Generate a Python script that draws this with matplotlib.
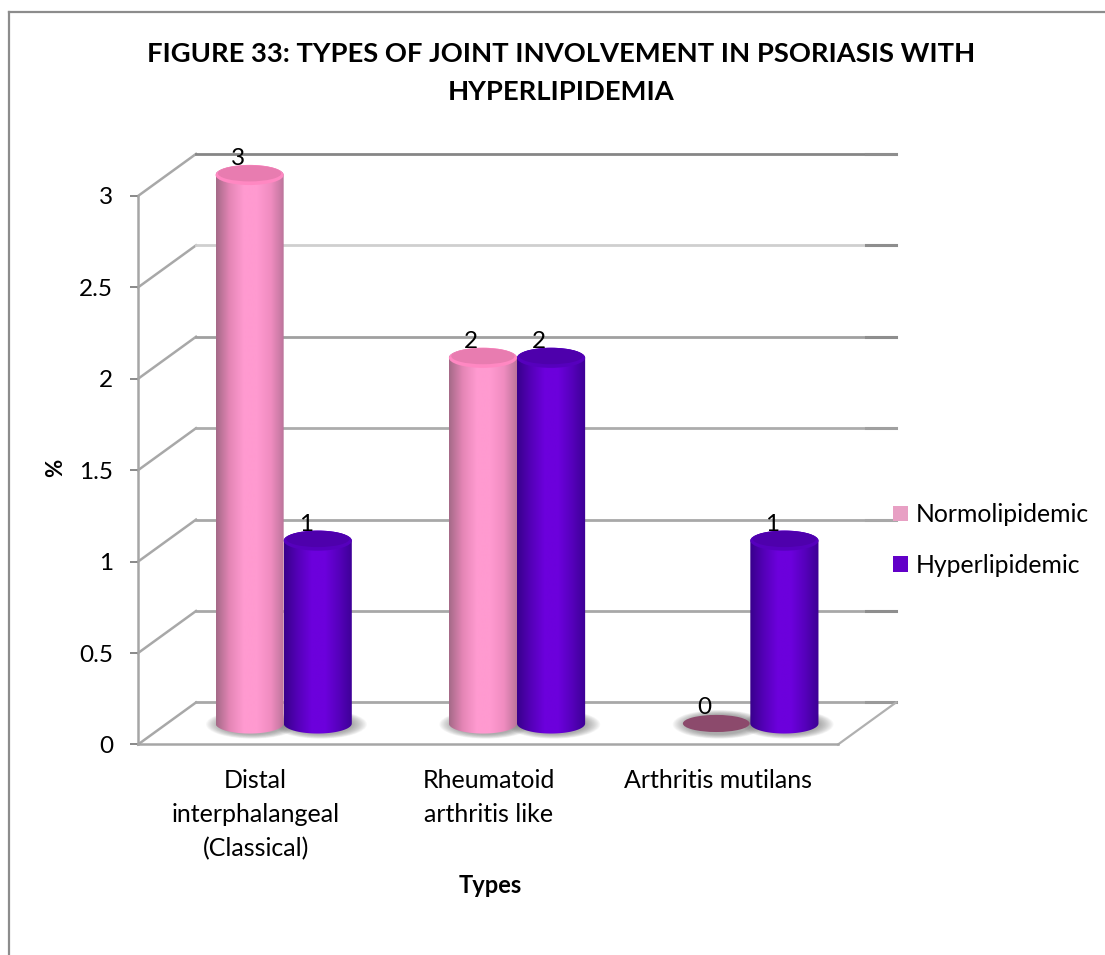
"""Grouped cylinder chart of joint involvement types by lipid status."""

import matplotlib

matplotlib.use("Agg")

import matplotlib.pyplot as plt
import numpy as np
from matplotlib.colors import LinearSegmentedColormap, to_rgb
from matplotlib.lines import Line2D
from matplotlib.patches import Ellipse, Patch, PathPatch
from matplotlib.path import Path
from matplotlib.transforms import ScaledTranslation

# Chart data
CATEGORIES = ["Distal\ninterphalangeal\n(Classical)", "Rheumatoid\narthritis like", "Arthritis mutilans"]
SERIES_NAMES = ["Normolipidemic", "Hyperlipidemic"]
NORMOLIPIDEMIC = [3, 2, 0]
HYPERLIPIDEMIC = [1, 2, 1]
Y_TICKS = [0, 0.5, 1, 1.5, 2, 2.5, 3]
Y_TICK_LABELS = ["0", "0.5", "1", "1.5", "2", "2.5", "3"]

TITLE = "FIGURE 33: TYPES OF JOINT INVOLVEMENT IN PSORIASIS WITH\nHYPERLIPIDEMIA"

# Figure geometry
WIDTH, HEIGHT, DPI = 1105, 955, 100
FONT = "Lato"

# Depth of the fake 3D box, in data units
DEPTH_X = 0.2486
DEPTH_Y = 0.23
BAR_WIDTH = 0.292
CAP_HEIGHT = 0.11

# Colours across a cylinder, left edge to right edge
PINK_RAMP = ["#a56a88", "#e586b6", "#ff9ad0", "#ff9ad0", "#f08cc0", "#b87398"]
PURPLE_RAMP = ["#38008c", "#5500b8", "#6c00dc", "#6c00dc", "#5600bc", "#3c0094"]
PINK_CAP = "#e87cb0"
PURPLE_CAP = "#4e00ac"
ZERO_COLOR = "#8c4a6c"

# Back wall line colours from v=0 up to v=3: main run, right end
WALL_COLORS = ["#a8a8a8", "#a8a8a8", "#a8a8a8", "#acacac", "#a0a0a0", "#cfcfcf", "#868686"]
WALL_END_COLORS = ["#9a9a9a", "#8e8e8e", "#a8a8a8", "#a0a0a0", "#8e8e8e", "#8e8e8e", "#8e8e8e"]
AXIS_COLOR = "#a6a6a6"

# Horizontal nudge of each category label, pixels
LABEL_SHIFT = [1, 1, -3]


def draw_wall(ax):
    """Draw the side wall, back wall lines and the floor outline."""
    left, right = -0.5, 2.5
    back_left = left + DEPTH_X
    back_right = right + DEPTH_X
    end_start = back_right - 30 / 233.3

    for tick, color, end_color in zip(Y_TICKS, WALL_COLORS, WALL_END_COLORS):
        ax.plot([left, back_left], [tick, tick + DEPTH_Y], color="#a8a8a8", lw=1.8, clip_on=False, zorder=1)
        ax.plot([back_left, end_start], [tick + DEPTH_Y] * 2, color=color, lw=2.0, clip_on=False, zorder=1)
        ax.plot([end_start, back_right], [tick + DEPTH_Y] * 2, color=end_color, lw=2.2, clip_on=False, zorder=1)

    # Right edge of the floor
    ax.plot([right, back_right], [0, DEPTH_Y], color="#b0b0b0", lw=1.6, clip_on=False, zorder=1)


def draw_shadow(ax, x_center, y_center, width):
    """Soft grey shadow on the floor, built from stacked ellipses."""
    for scale in np.linspace(1.36, 0.95, 14):
        ax.add_patch(Ellipse((x_center + 0.012, y_center), width * scale, CAP_HEIGHT * 1.05 * scale,
                             facecolor="#6a6a6a", edgecolor="none", alpha=0.05, clip_on=False, zorder=2))


def draw_cylinder(ax, fig, x_center, value, ramp, cap_color, zorder):
    """Draw one upright cylinder standing at the middle of the box depth."""
    base = DEPTH_Y / 2
    top = value + DEPTH_Y / 2
    half = BAR_WIDTH / 2
    draw_shadow(ax, x_center, base - 0.005, BAR_WIDTH)

    if value == 0:
        ax.add_patch(Ellipse((x_center, base), BAR_WIDTH * 0.98, CAP_HEIGHT * 0.85, facecolor=ZERO_COLOR,
                             edgecolor="none", clip_on=False, zorder=zorder))
        return

    # Outline: straight sides, rounded underside, then back across the top
    lower = np.linspace(np.pi, 2 * np.pi, 60)
    upper = np.linspace(0, np.pi, 60)
    outline_x = np.r_[x_center + half * np.cos(lower), x_center + half * np.cos(upper)]
    outline_y = np.r_[base + CAP_HEIGHT / 2 * np.sin(lower), top + CAP_HEIGHT / 2 * np.sin(upper)]
    outline = Path(np.column_stack([outline_x, outline_y]))

    clip = PathPatch(outline, transform=ax.transData, facecolor="none", edgecolor="none")
    ax.add_patch(clip)

    cmap = LinearSegmentedColormap.from_list("body", ramp)
    shade = np.linspace(0, 1, 128).reshape(1, -1)
    body = ax.imshow(shade, cmap=cmap, aspect="auto", interpolation="bilinear", zorder=zorder,
                     extent=(x_center - half, x_center + half, base - CAP_HEIGHT, top + CAP_HEIGHT))
    # The tallest cylinder rises above the axes box, so clip to the figure instead
    body.set_clip_box(fig.bbox)
    body.set_clip_path(clip)

    # Top face with a slightly lighter lip along its front edge
    lip = tuple(min(c * 1.1, 1) for c in to_rgb(cap_color))
    ax.add_patch(Ellipse((x_center, top), BAR_WIDTH, CAP_HEIGHT, facecolor=lip, edgecolor="none",
                         clip_on=False, zorder=zorder + 0.1))
    ax.add_patch(Ellipse((x_center, top + CAP_HEIGHT * 0.08), BAR_WIDTH * 0.93, CAP_HEIGHT * 0.8,
                         facecolor=cap_color, edgecolor="none", clip_on=False, zorder=zorder + 0.2))


def add_value_label(ax, x_center, value):
    """Write the value above a cylinder, towards the front of the box."""
    ax.annotate(str(value), xy=(x_center, value), xytext=(-12, 37), textcoords="offset pixels",
                ha="center", va="center", fontsize=17.5, color="black", zorder=20, annotation_clip=False)


if __name__ == "__main__":
    plt.rcParams["font.family"] = [FONT, "DejaVu Sans"]

    fig = plt.figure(figsize=(WIDTH / DPI, HEIGHT / DPI), dpi=DPI, facecolor="white")
    ax = fig.add_axes([138 / WIDTH, 1 - 744.5 / HEIGHT, 700 / WIDTH, (744.5 - 196) / HEIGHT])
    ax.patch.set_visible(False)

    positions = np.arange(len(CATEGORIES))
    draw_wall(ax)

    # Cylinders sit half a box depth behind the front plane
    center_shift = DEPTH_X / 2
    for index, pos in enumerate(positions):
        pink_x = pos + center_shift - BAR_WIDTH / 2
        purple_x = pos + center_shift + BAR_WIDTH / 2
        draw_cylinder(ax, fig, pink_x, NORMOLIPIDEMIC[index], PINK_RAMP, PINK_CAP, 5)
        draw_cylinder(ax, fig, purple_x, HYPERLIPIDEMIC[index], PURPLE_RAMP, PURPLE_CAP, 6)
        add_value_label(ax, pink_x, NORMOLIPIDEMIC[index])
        add_value_label(ax, purple_x, HYPERLIPIDEMIC[index])

    ax.set_xlim(-0.5, 2.5)
    ax.set_ylim(0, 3)

    # Axes
    for side in ["top", "right"]:
        ax.spines[side].set_visible(False)
    for side in ["left", "bottom"]:
        ax.spines[side].set_color(AXIS_COLOR)
        ax.spines[side].set_linewidth(1.8)
        ax.spines[side].set_zorder(3)

    ax.set_yticks(Y_TICKS, Y_TICK_LABELS, fontsize=17.5)
    ax.tick_params(axis="y", length=5.8, width=1.3, color="#808080", pad=12)
    ax.set_xticks(positions, CATEGORIES, fontsize=18, linespacing=1.55)
    ax.tick_params(axis="x", length=0, pad=18)
    for label, shift in zip(ax.get_xticklabels(), LABEL_SHIFT):
        label.set_transform(label.get_transform() + ScaledTranslation(shift / DPI, 0, fig.dpi_scale_trans))

    fig.text(56 / WIDTH, 1 - 468 / HEIGHT, "%", rotation=90, ha="center", va="center", fontsize=16, fontweight="bold")
    fig.text(490 / WIDTH, 1 - 885 / HEIGHT, "Types", ha="center", va="center", fontsize=17, fontweight="bold")
    fig.text(561 / WIDTH, 1 - 73 / HEIGHT, TITLE, ha="center", va="center", fontsize=19.7, fontweight="bold",
             linespacing=1.65)

    # Legend
    handles = [Patch(facecolor="#e8a0c4", edgecolor="none"), Patch(facecolor="#6200c8", edgecolor="none")]
    fig.legend(handles, SERIES_NAMES, loc="center left", bbox_to_anchor=(871 / WIDTH, 1 - 540 / HEIGHT),
               frameon=False, fontsize=17.8, handlelength=0.6, handleheight=0.6, handletextpad=0.33,
               labelspacing=1.12)

    # Outer frame: only the top and left edges are drawn
    frame = dict(color="#8c8c8c", lw=1.6, transform=fig.transFigure)
    fig.add_artist(Line2D([9 / WIDTH, 1], [1 - 12 / HEIGHT] * 2, **frame))
    fig.add_artist(Line2D([9 / WIDTH] * 2, [0, 1 - 12 / HEIGHT], **frame))

    fig.savefig("out.png", dpi=DPI, facecolor="white")
    plt.close(fig)
